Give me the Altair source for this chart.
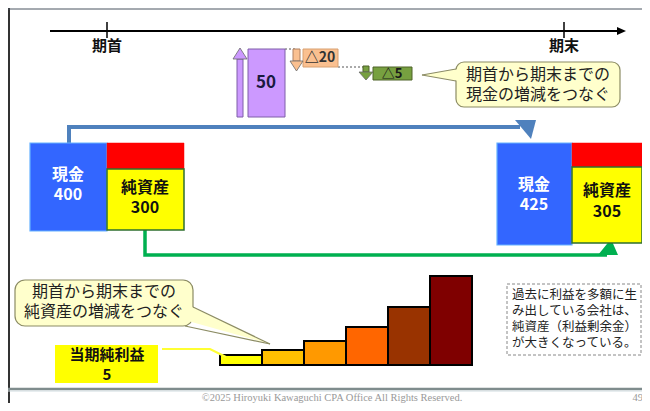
import altair as alt
import pandas as pd

# ---------------- values ----------------
timeline_labels = ["期首", "期末"]
cash_values = [400, 425]
net_asset_values = [300, 305]
flow_labels = ["50", "△20", "△5"]
net_income = 5
stair_heights = [10, 15, 24, 38, 58, 89]
stair_colors = ["#FFFF00", "#FFC000", "#FF9900", "#FF6600", "#993300", "#7F0000"]
callout_top = ["期首から期末までの", "現金の増減をつなぐ"]
callout_bottom = ["期首から期末までの", "純資産の増減をつなぐ"]
note_lines = ["過去に利益を多額に生", "み出している会社は、", "純資産（利益剰余金）", "が大きくなっている。"]
footer_text = "©2025  Hiroyuki Kawaguchi CPA Office All Rights Reserved."
page_number = "49"

FONT = "Noto Sans CJK JP"
X = alt.Scale(domain=[8, 642])
Y = alt.Scale(domain=[8, 403], reverse=True)


def rects(rows, **kw):
    df = pd.DataFrame(rows, columns=["x0", "x1", "y0", "y1", "fill", "stroke", "sw"])
    return alt.Chart(df).mark_rect(**kw).encode(
        x=alt.X("x0:Q", scale=X, axis=None), x2="x1:Q",
        y=alt.Y("y0:Q", scale=Y, axis=None), y2="y1:Q",
        fill=alt.Fill("fill:N", scale=None),
        stroke=alt.Stroke("stroke:N", scale=None),
        strokeWidth=alt.StrokeWidth("sw:Q", scale=None),
    )


def rules(rows, **kw):
    df = pd.DataFrame(rows, columns=["x0", "x1", "y0", "y1", "color", "sw"])
    return alt.Chart(df).mark_rule(**kw).encode(
        x=alt.X("x0:Q", scale=X, axis=None), x2="x1:Q",
        y=alt.Y("y0:Q", scale=Y, axis=None), y2="y1:Q",
        color=alt.Color("color:N", scale=None),
        strokeWidth=alt.StrokeWidth("sw:Q", scale=None),
    )


def polylines(rows, **kw):
    df = pd.DataFrame(rows, columns=["id", "seq", "x", "y", "color", "sw"])
    return alt.Chart(df).mark_line(**kw).encode(
        x=alt.X("x:Q", scale=X, axis=None),
        y=alt.Y("y:Q", scale=Y, axis=None),
        detail="id:N", order="seq:Q",
        color=alt.Color("color:N", scale=None),
        strokeWidth=alt.StrokeWidth("sw:Q", scale=None),
    )


def triangles(rows, **kw):
    df = pd.DataFrame(rows, columns=["id", "x", "y", "y2", "fill"])
    return alt.Chart(df).mark_area(orient="vertical", **kw).encode(
        x=alt.X("x:Q", scale=X, axis=None),
        y=alt.Y("y:Q", scale=Y, axis=None, stack=None), y2="y2:Q",
        detail="id:N",
        fill=alt.Fill("fill:N", scale=None),
    )


def texts(rows, **kw):
    df = pd.DataFrame(rows, columns=["text", "x", "y", "size", "color"])
    params = dict(font=FONT, baseline="middle", align="center")
    params.update(kw)
    return alt.Chart(df).mark_text(**params).encode(
        x=alt.X("x:Q", scale=X, axis=None),
        y=alt.Y("y:Q", scale=Y, axis=None),
        text="text:N",
        size=alt.Size("size:Q", scale=None),
        color=alt.Color("color:N", scale=None),
    )


layers = []

# frame and footer separator
layers.append(rules([
    [9, 9, 8, 403, "#333333", 2],
    [8, 642, 9, 9, "#4a5560", 1],
    [8, 642, 389, 389, "#7F8C8D", 2.5],
    [8, 642, 391, 391, "#D0DCE0", 1],
]))

# timeline
layers.append(rules([
    [50, 618, 31, 31, "#000000", 2],
    [107, 107, 22, 38, "#000000", 1.5],
    [564, 564, 22, 38, "#000000", 1.5],
]))
layers.append(triangles([
    ["tl", 617, 27, 35, "#000000"],
    ["tl", 626, 31, 31, "#000000"],
]))

# waterfall of cash changes
layers.append(rules([
    [285, 297, 49, 49, "#555555", 1],
    [338, 366, 67, 67, "#555555", 1],
], strokeDash=[2, 2]))
layers.append(rects([
    [248, 285, 49, 117, "#CC99FF", "#7F5FA8", 1],
    [237, 243, 59, 117, "#CC99FF", "#7F5FA8", 1],
    [303, 338, 49, 67, "#FAC090", "#D8A070", 1],
    [293, 300, 49, 61, "#FAC090", "#B08060", 1],
    [373, 412, 67, 80, "#77A040", "#4F6228", 1],
    [363, 369, 66, 72, "#77A040", "#4F6228", 1],
]))
layers.append(triangles([
    ["pu", 233, 59, 59, "#CC99FF"], ["pu", 240, 48, 59, "#CC99FF"], ["pu", 247, 59, 59, "#CC99FF"],
    ["or", 290, 61, 61, "#FAC090"], ["or", 296.5, 61, 71, "#FAC090"], ["or", 303, 61, 61, "#FAC090"],
    ["gr", 359, 72, 72, "#77A040"], ["gr", 366, 72, 80, "#77A040"], ["gr", 373, 72, 72, "#77A040"],
], stroke="#6a6a6a", strokeWidth=0.8))

# top callout
layers.append(rects([[456, 620, 62, 107, "#FFFFCC", "#8C8C64", 1.2]], cornerRadius=8))
layers.append(triangles([
    ["c1", 422, 75, 75, "#FFFFCC"], ["c1", 459, 69, 81, "#FFFFCC"],
]))
layers.append(polylines([
    ["a", 0, 456, 69, "#8C8C64", 1.2], ["a", 1, 422, 75, "#8C8C64", 1.2],
    ["b", 0, 456, 81, "#8C8C64", 1.2], ["b", 1, 422, 75, "#8C8C64", 1.2],
]))

# blue and green connector arrows
layers.append(polylines([
    ["blue", 0, 69, 143, "#4F81BD", 4], ["blue", 1, 69, 127, "#4F81BD", 4],
    ["blue", 2, 520, 127, "#4F81BD", 4], ["blue", 3, 532, 142, "#4F81BD", 3],
    ["green", 0, 145, 230, "#00B050", 3.5], ["green", 1, 145, 255, "#00B050", 3.5],
    ["green", 2, 607, 255, "#00B050", 3.5], ["green", 3, 609, 244, "#00B050", 3],
], strokeJoin="miter"))
layers.append(triangles([
    ["bh", 515, 120, 120, "#4F81BD"], ["bh", 531, 120, 139, "#4F81BD"], ["bh", 536, 120, 120, "#4F81BD"],
    ["gh", 598, 255, 255, "#00B050"], ["gh", 611, 239, 255, "#00B050"], ["gh", 618, 255, 255, "#00B050"],
]))

# balance sheet boxes
layers.append(rects([
    [30, 107, 143, 231, "#3366FF", "#66B2FF", 1.2],
    [107, 184, 143, 169, "#FF0000", "#FF0000", 0.5],
    [107, 184, 169, 230, "#FFFF00", "#2F6F2F", 1.5],
    [497, 572, 143, 245, "#3366FF", "#66B2FF", 1.2],
    [572, 642, 143, 167, "#FF0000", "#FF0000", 0.5],
    [572, 642, 167, 243, "#FFFF00", "#2F6F2F", 1.5],
]))

# bottom callout
layers.append(rects([[15, 193, 280, 326, "#FFFFCC", "#8C8C64", 1.2]], cornerRadius=10))
layers.append(triangles([
    ["c2", 188, 305, 321, "#FFFFCC"], ["c2", 270, 344, 344, "#FFFFCC"],
]))
layers.append(polylines([
    ["a", 0, 193, 307, "#8C8C64", 1.2], ["a", 1, 270, 344, "#8C8C64", 1.2],
    ["b", 0, 185, 326, "#8C8C64", 1.2], ["b", 1, 270, 344, "#8C8C64", 1.2],
]))

# staircase of accumulated net assets
stair_base = 365
stair_left = 220
stair_w = 42
stair_rows = []
for i, (h, c) in enumerate(zip(stair_heights, stair_colors)):
    stair_rows.append([stair_left + i * stair_w, stair_left + (i + 1) * stair_w,
                       stair_base - h, stair_base, c, "#000000", 2])
layers.append(rects(stair_rows))

# net income label and connector
layers.append(rects([[55, 158, 345, 383, "#FFFF00", "#FFFF00", 0]]))
layers.append(polylines([
    ["n", 0, 162, 349, "#FFFF33", 2], ["n", 1, 210, 349, "#FFFF33", 2], ["n", 2, 226, 357, "#FFFF33", 2],
]))

# dashed note box
layers.append(rects([[507, 641, 284, 355, "#FFFFFF", "#888888", 1]], strokeDash=[3, 2]))

# bold texts
bold_rows = [
    [timeline_labels[0], 107, 46, 15, "#111111"],
    [timeline_labels[1], 564, 46, 15, "#111111"],
    [flow_labels[0], 266, 83, 17, "#1a1a40"],
    [flow_labels[1], 320, 58, 14, "#333333"],
    [flow_labels[2], 392, 73.5, 13, "#1a1a1a"],
    ["現金", 68, 175, 16, "#FFFFFF"],
    [str(cash_values[0]), 68, 195, 16, "#FFFFFF"],
    ["純資産", 145, 188, 16, "#111111"],
    [str(net_asset_values[0]), 145, 208, 16, "#111111"],
    ["現金", 534, 185, 16, "#FFFFFF"],
    [str(cash_values[1]), 534, 205, 16, "#FFFFFF"],
    ["純資産", 607, 191, 16, "#111111"],
    [str(net_asset_values[1]), 607, 212, 16, "#111111"],
    ["当期純利益", 107, 355, 15, "#111111"],
    [str(net_income), 107, 375, 15, "#111111"],
]
layers.append(texts(bold_rows, fontWeight="bold"))

# normal texts
normal_rows = [
    [callout_top[0], 538, 75, 16, "#222222"],
    [callout_top[1], 538, 95, 16, "#222222"],
    [callout_bottom[0], 104, 292, 16, "#222222"],
    [callout_bottom[1], 104, 312, 16, "#222222"],
]
layers.append(texts(normal_rows))
note_rows = [[t, 512, 295 + i * 16, 12.5, "#222222"] for i, t in enumerate(note_lines)]
layers.append(texts(note_rows, align="left"))
layers.append(texts([[footer_text, 332, 398, 10.5, "#999999"]], font="Liberation Serif"))
layers.append(texts([[page_number, 643, 398, 10.5, "#999999"]], font="Liberation Serif", align="right"))

chart = alt.layer(*layers).properties(
    width=634, height=395,
    autosize=alt.AutoSizeParams(type="none"),
    padding=0,
    background="#FFFFFF",
).configure_view(stroke=None)

chart.save("out.html", embed_options={"renderer": "svg", "actions": False})
